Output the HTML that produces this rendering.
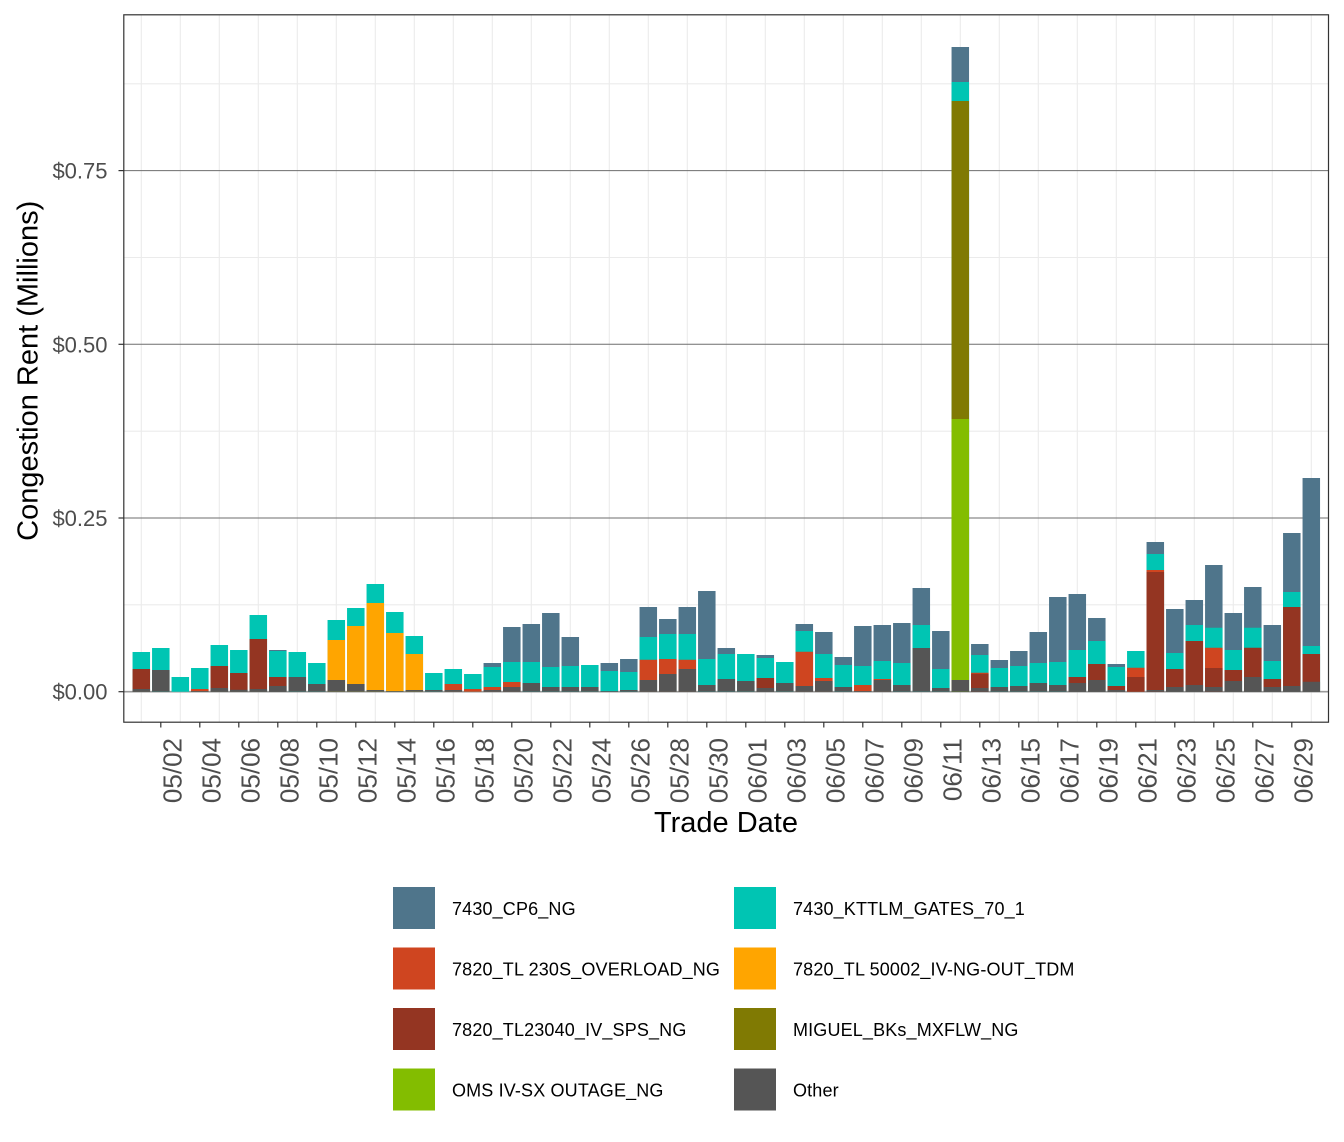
<!DOCTYPE html>
<html>
<head>
<meta charset="utf-8">
<style>
html,body{margin:0;padding:0;background:#fff;width:1344px;height:1142px;overflow:hidden;}
svg{display:block;}
text{font-family:"Liberation Sans",Arial,sans-serif;}
.b{fill:#4F758B}.t{fill:#00C5B3}.r{fill:#CF4520}.o{fill:#FFA500}.k{fill:#943522}.v{fill:#807A03}.g{fill:#83BD00}.d{fill:#555555}
.xl{font-size:26px;fill:#4d4d4d}
.yl{font-size:22px;fill:#4d4d4d}
.lg{font-size:18px;fill:#000;letter-spacing:0.15px}
</style>
</head>
<body>
<svg width="1344" height="1142" viewBox="0 0 1344 1142" xmlns="http://www.w3.org/2000/svg">
<rect x="0" y="0" width="1344" height="1142" fill="#fff"/>
<g stroke="#ebebeb" stroke-width="1.1">
<line x1="124" x2="1328" y1="604.85" y2="604.85"/>
<line x1="124" x2="1328" y1="431.2" y2="431.2"/>
<line x1="124" x2="1328" y1="257.5" y2="257.5"/>
<line x1="124" x2="1328" y1="83.8" y2="83.8"/>
</g>
<g stroke="#ebebeb" stroke-width="1.1">
<line x1="141.3" x2="141.3" y1="15" y2="722"/><line x1="180.3" x2="180.3" y1="15" y2="722"/><line x1="219.3" x2="219.3" y1="15" y2="722"/><line x1="258.3" x2="258.3" y1="15" y2="722"/><line x1="297.3" x2="297.3" y1="15" y2="722"/><line x1="336.3" x2="336.3" y1="15" y2="722"/><line x1="375.3" x2="375.3" y1="15" y2="722"/><line x1="414.3" x2="414.3" y1="15" y2="722"/><line x1="453.3" x2="453.3" y1="15" y2="722"/><line x1="492.3" x2="492.3" y1="15" y2="722"/><line x1="531.3" x2="531.3" y1="15" y2="722"/><line x1="570.3" x2="570.3" y1="15" y2="722"/><line x1="609.3" x2="609.3" y1="15" y2="722"/><line x1="648.3" x2="648.3" y1="15" y2="722"/><line x1="687.3" x2="687.3" y1="15" y2="722"/><line x1="726.3" x2="726.3" y1="15" y2="722"/><line x1="765.3" x2="765.3" y1="15" y2="722"/><line x1="804.3" x2="804.3" y1="15" y2="722"/><line x1="843.3" x2="843.3" y1="15" y2="722"/><line x1="882.3" x2="882.3" y1="15" y2="722"/><line x1="921.3" x2="921.3" y1="15" y2="722"/><line x1="960.3" x2="960.3" y1="15" y2="722"/><line x1="999.3" x2="999.3" y1="15" y2="722"/><line x1="1038.3" x2="1038.3" y1="15" y2="722"/><line x1="1077.3" x2="1077.3" y1="15" y2="722"/><line x1="1116.3" x2="1116.3" y1="15" y2="722"/><line x1="1155.3" x2="1155.3" y1="15" y2="722"/><line x1="1194.3" x2="1194.3" y1="15" y2="722"/><line x1="1233.3" x2="1233.3" y1="15" y2="722"/><line x1="1272.3" x2="1272.3" y1="15" y2="722"/><line x1="1311.3" x2="1311.3" y1="15" y2="722"/>
</g>
<g stroke="#6e6e6e" stroke-width="1">
<line x1="124" x2="1328" y1="691.7" y2="691.7" stroke="#9a9a9a" stroke-width="1.6"/>
<line x1="124" x2="1328" y1="518" y2="518"/>
<line x1="124" x2="1328" y1="344.3" y2="344.3"/>
<line x1="124" x2="1328" y1="170.6" y2="170.6"/>
</g>
<g>
<g transform="translate(132.55,0)"><path class="t" d="M0 652H17.5V691.7H0Z"/><path class="k" d="M0 669H17.5V691.7H0Z"/><path class="d" d="M0 689H17.5V691.7H0Z"/></g>
<g transform="translate(152.05,0)"><path class="t" d="M0 648H17.5V691.7H0Z"/><path class="d" d="M0 670H17.5V691.7H0Z"/></g>
<g transform="translate(171.55,0)"><path class="t" d="M0 677H17.5V691.7H0Z"/></g>
<g transform="translate(191.05,0)"><path class="t" d="M0 668H17.5V691.7H0Z"/><path class="r" d="M0 689H17.5V691.7H0Z"/><path class="d" d="M0 691H17.5V691.7H0Z"/></g>
<g transform="translate(210.55,0)"><path class="t" d="M0 645H17.5V691.7H0Z"/><path class="k" d="M0 666H17.5V691.7H0Z"/><path class="d" d="M0 688H17.5V691.7H0Z"/></g>
<g transform="translate(230.05,0)"><path class="t" d="M0 650H17.5V691.7H0Z"/><path class="k" d="M0 673H17.5V691.7H0Z"/><path class="d" d="M0 689.7H17.5V691.7H0Z"/></g>
<g transform="translate(249.55,0)"><path class="t" d="M0 615H17.5V691.7H0Z"/><path class="k" d="M0 639H17.5V691.7H0Z"/><path class="d" d="M0 689H17.5V691.7H0Z"/></g>
<g transform="translate(269.05,0)"><path class="b" d="M0 650H17.5V691.7H0Z"/><path class="t" d="M0 651H17.5V691.7H0Z"/><path class="k" d="M0 677H17.5V691.7H0Z"/><path class="d" d="M0 686H17.5V691.7H0Z"/></g>
<g transform="translate(288.55,0)"><path class="t" d="M0 652H17.5V691.7H0Z"/><path class="d" d="M0 677H17.5V691.7H0Z"/></g>
<g transform="translate(308.05,0)"><path class="t" d="M0 663H17.5V691.7H0Z"/><path class="d" d="M0 684H17.5V691.7H0Z"/></g>
<g transform="translate(327.55,0)"><path class="t" d="M0 620H17.5V691.7H0Z"/><path class="o" d="M0 640H17.5V691.7H0Z"/><path class="d" d="M0 680H17.5V691.7H0Z"/></g>
<g transform="translate(347.05,0)"><path class="t" d="M0 608H17.5V691.7H0Z"/><path class="o" d="M0 626H17.5V691.7H0Z"/><path class="d" d="M0 684H17.5V691.7H0Z"/></g>
<g transform="translate(366.55,0)"><path class="t" d="M0 584H17.5V691.7H0Z"/><path class="o" d="M0 603H17.5V691.7H0Z"/><path class="d" d="M0 690H17.5V691.7H0Z"/></g>
<g transform="translate(386.05,0)"><path class="t" d="M0 612H17.5V691.7H0Z"/><path class="o" d="M0 633H17.5V691.7H0Z"/><path class="d" d="M0 691H17.5V691.7H0Z"/></g>
<g transform="translate(405.55,0)"><path class="t" d="M0 636H17.5V691.7H0Z"/><path class="o" d="M0 654H17.5V691.7H0Z"/><path class="d" d="M0 690H17.5V691.7H0Z"/></g>
<g transform="translate(425.05,0)"><path class="t" d="M0 673H17.5V691.7H0Z"/><path class="d" d="M0 690H17.5V691.7H0Z"/></g>
<g transform="translate(444.55,0)"><path class="t" d="M0 669H17.5V691.7H0Z"/><path class="r" d="M0 684H17.5V691.7H0Z"/><path class="d" d="M0 690H17.5V691.7H0Z"/></g>
<g transform="translate(464.05,0)"><path class="t" d="M0 674H17.5V691.7H0Z"/><path class="r" d="M0 689H17.5V691.7H0Z"/></g>
<g transform="translate(483.55,0)"><path class="b" d="M0 663H17.5V691.7H0Z"/><path class="t" d="M0 667H17.5V691.7H0Z"/><path class="r" d="M0 687H17.5V691.7H0Z"/><path class="d" d="M0 690H17.5V691.7H0Z"/></g>
<g transform="translate(503.05,0)"><path class="b" d="M0 627H17.5V691.7H0Z"/><path class="t" d="M0 662H17.5V691.7H0Z"/><path class="r" d="M0 682H17.5V691.7H0Z"/><path class="d" d="M0 687H17.5V691.7H0Z"/></g>
<g transform="translate(522.55,0)"><path class="b" d="M0 624H17.5V691.7H0Z"/><path class="t" d="M0 662H17.5V691.7H0Z"/><path class="d" d="M0 683H17.5V691.7H0Z"/></g>
<g transform="translate(542.05,0)"><path class="b" d="M0 613H17.5V691.7H0Z"/><path class="t" d="M0 667H17.5V691.7H0Z"/><path class="d" d="M0 687H17.5V691.7H0Z"/></g>
<g transform="translate(561.55,0)"><path class="b" d="M0 637H17.5V691.7H0Z"/><path class="t" d="M0 666H17.5V691.7H0Z"/><path class="d" d="M0 687H17.5V691.7H0Z"/></g>
<g transform="translate(581.05,0)"><path class="t" d="M0 665H17.5V691.7H0Z"/><path class="d" d="M0 687H17.5V691.7H0Z"/></g>
<g transform="translate(600.55,0)"><path class="b" d="M0 663H17.5V691.7H0Z"/><path class="t" d="M0 671H17.5V691.7H0Z"/><path class="d" d="M0 691H17.5V691.7H0Z"/></g>
<g transform="translate(620.05,0)"><path class="b" d="M0 659H17.5V691.7H0Z"/><path class="t" d="M0 672H17.5V691.7H0Z"/><path class="d" d="M0 690H17.5V691.7H0Z"/></g>
<g transform="translate(639.55,0)"><path class="b" d="M0 607H17.5V691.7H0Z"/><path class="t" d="M0 637H17.5V691.7H0Z"/><path class="r" d="M0 659.7H17.5V691.7H0Z"/><path class="d" d="M0 680H17.5V691.7H0Z"/></g>
<g transform="translate(659.05,0)"><path class="b" d="M0 619H17.5V691.7H0Z"/><path class="t" d="M0 634H17.5V691.7H0Z"/><path class="r" d="M0 659H17.5V691.7H0Z"/><path class="d" d="M0 674H17.5V691.7H0Z"/></g>
<g transform="translate(678.55,0)"><path class="b" d="M0 607H17.5V691.7H0Z"/><path class="t" d="M0 634H17.5V691.7H0Z"/><path class="r" d="M0 659.7H17.5V691.7H0Z"/><path class="d" d="M0 669H17.5V691.7H0Z"/></g>
<g transform="translate(698.05,0)"><path class="b" d="M0 591H17.5V691.7H0Z"/><path class="t" d="M0 659H17.5V691.7H0Z"/><path class="d" d="M0 685H17.5V691.7H0Z"/></g>
<g transform="translate(717.55,0)"><path class="b" d="M0 648H17.5V691.7H0Z"/><path class="t" d="M0 654H17.5V691.7H0Z"/><path class="d" d="M0 679H17.5V691.7H0Z"/></g>
<g transform="translate(737.05,0)"><path class="t" d="M0 654H17.5V691.7H0Z"/><path class="d" d="M0 681H17.5V691.7H0Z"/></g>
<g transform="translate(756.55,0)"><path class="b" d="M0 655H17.5V691.7H0Z"/><path class="t" d="M0 658H17.5V691.7H0Z"/><path class="k" d="M0 678H17.5V691.7H0Z"/><path class="d" d="M0 688H17.5V691.7H0Z"/></g>
<g transform="translate(776.05,0)"><path class="t" d="M0 662H17.5V691.7H0Z"/><path class="d" d="M0 683H17.5V691.7H0Z"/></g>
<g transform="translate(795.55,0)"><path class="b" d="M0 624H17.5V691.7H0Z"/><path class="t" d="M0 631H17.5V691.7H0Z"/><path class="r" d="M0 651.7H17.5V691.7H0Z"/><path class="d" d="M0 686H17.5V691.7H0Z"/></g>
<g transform="translate(815.05,0)"><path class="b" d="M0 632H17.5V691.7H0Z"/><path class="t" d="M0 654H17.5V691.7H0Z"/><path class="r" d="M0 678H17.5V691.7H0Z"/><path class="d" d="M0 681H17.5V691.7H0Z"/></g>
<g transform="translate(834.55,0)"><path class="b" d="M0 657H17.5V691.7H0Z"/><path class="t" d="M0 665H17.5V691.7H0Z"/><path class="d" d="M0 687H17.5V691.7H0Z"/></g>
<g transform="translate(854.05,0)"><path class="b" d="M0 626H17.5V691.7H0Z"/><path class="t" d="M0 666H17.5V691.7H0Z"/><path class="r" d="M0 685H17.5V691.7H0Z"/><path class="d" d="M0 691H17.5V691.7H0Z"/></g>
<g transform="translate(873.55,0)"><path class="b" d="M0 625H17.5V691.7H0Z"/><path class="t" d="M0 661H17.5V691.7H0Z"/><path class="r" d="M0 679H17.5V691.7H0Z"/><path class="d" d="M0 680H17.5V691.7H0Z"/></g>
<g transform="translate(893.05,0)"><path class="b" d="M0 623H17.5V691.7H0Z"/><path class="t" d="M0 663H17.5V691.7H0Z"/><path class="d" d="M0 685H17.5V691.7H0Z"/></g>
<g transform="translate(912.55,0)"><path class="b" d="M0 588H17.5V691.7H0Z"/><path class="t" d="M0 625H17.5V691.7H0Z"/><path class="d" d="M0 648H17.5V691.7H0Z"/></g>
<g transform="translate(932.05,0)"><path class="b" d="M0 631H17.5V691.7H0Z"/><path class="t" d="M0 669H17.5V691.7H0Z"/><path class="d" d="M0 688H17.5V691.7H0Z"/></g>
<g transform="translate(951.55,0)"><path class="b" d="M0 47H17.5V691.7H0Z"/><path class="t" d="M0 82H17.5V691.7H0Z"/><path class="v" d="M0 101H17.5V691.7H0Z"/><path class="g" d="M0 419H17.5V691.7H0Z"/><path class="d" d="M0 680H17.5V691.7H0Z"/></g>
<g transform="translate(971.05,0)"><path class="b" d="M0 644H17.5V691.7H0Z"/><path class="t" d="M0 655H17.5V691.7H0Z"/><path class="r" d="M0 672.7H17.5V691.7H0Z"/><path class="k" d="M0 673.7H17.5V691.7H0Z"/><path class="d" d="M0 688H17.5V691.7H0Z"/></g>
<g transform="translate(990.55,0)"><path class="b" d="M0 660H17.5V691.7H0Z"/><path class="t" d="M0 668H17.5V691.7H0Z"/><path class="d" d="M0 687H17.5V691.7H0Z"/></g>
<g transform="translate(1010.05,0)"><path class="b" d="M0 651H17.5V691.7H0Z"/><path class="t" d="M0 666H17.5V691.7H0Z"/><path class="d" d="M0 686H17.5V691.7H0Z"/></g>
<g transform="translate(1029.55,0)"><path class="b" d="M0 632H17.5V691.7H0Z"/><path class="t" d="M0 663H17.5V691.7H0Z"/><path class="d" d="M0 683H17.5V691.7H0Z"/></g>
<g transform="translate(1049.05,0)"><path class="b" d="M0 597H17.5V691.7H0Z"/><path class="t" d="M0 662H17.5V691.7H0Z"/><path class="d" d="M0 685H17.5V691.7H0Z"/></g>
<g transform="translate(1068.55,0)"><path class="b" d="M0 594H17.5V691.7H0Z"/><path class="t" d="M0 650H17.5V691.7H0Z"/><path class="k" d="M0 677H17.5V691.7H0Z"/><path class="d" d="M0 683H17.5V691.7H0Z"/></g>
<g transform="translate(1088.05,0)"><path class="b" d="M0 618H17.5V691.7H0Z"/><path class="t" d="M0 641H17.5V691.7H0Z"/><path class="k" d="M0 664H17.5V691.7H0Z"/><path class="d" d="M0 680H17.5V691.7H0Z"/></g>
<g transform="translate(1107.55,0)"><path class="b" d="M0 664H17.5V691.7H0Z"/><path class="t" d="M0 667H17.5V691.7H0Z"/><path class="k" d="M0 686H17.5V691.7H0Z"/><path class="d" d="M0 690H17.5V691.7H0Z"/></g>
<g transform="translate(1127.05,0)"><path class="t" d="M0 651H17.5V691.7H0Z"/><path class="r" d="M0 667.7H17.5V691.7H0Z"/><path class="k" d="M0 677H17.5V691.7H0Z"/></g>
<g transform="translate(1146.55,0)"><path class="b" d="M0 542H17.5V691.7H0Z"/><path class="t" d="M0 554H17.5V691.7H0Z"/><path class="r" d="M0 570H17.5V691.7H0Z"/><path class="k" d="M0 572H17.5V691.7H0Z"/><path class="d" d="M0 690H17.5V691.7H0Z"/></g>
<g transform="translate(1166.05,0)"><path class="b" d="M0 609H17.5V691.7H0Z"/><path class="t" d="M0 653H17.5V691.7H0Z"/><path class="k" d="M0 669H17.5V691.7H0Z"/><path class="d" d="M0 687H17.5V691.7H0Z"/></g>
<g transform="translate(1185.55,0)"><path class="b" d="M0 600H17.5V691.7H0Z"/><path class="t" d="M0 625H17.5V691.7H0Z"/><path class="k" d="M0 641H17.5V691.7H0Z"/><path class="d" d="M0 685H17.5V691.7H0Z"/></g>
<g transform="translate(1205.05,0)"><path class="b" d="M0 565H17.5V691.7H0Z"/><path class="t" d="M0 627.7H17.5V691.7H0Z"/><path class="r" d="M0 647.7H17.5V691.7H0Z"/><path class="k" d="M0 668H17.5V691.7H0Z"/><path class="d" d="M0 687H17.5V691.7H0Z"/></g>
<g transform="translate(1224.55,0)"><path class="b" d="M0 613H17.5V691.7H0Z"/><path class="t" d="M0 650H17.5V691.7H0Z"/><path class="k" d="M0 670H17.5V691.7H0Z"/><path class="d" d="M0 681H17.5V691.7H0Z"/></g>
<g transform="translate(1244.05,0)"><path class="b" d="M0 587H17.5V691.7H0Z"/><path class="t" d="M0 627.7H17.5V691.7H0Z"/><path class="k" d="M0 647.7H17.5V691.7H0Z"/><path class="d" d="M0 677H17.5V691.7H0Z"/></g>
<g transform="translate(1263.55,0)"><path class="b" d="M0 625H17.5V691.7H0Z"/><path class="t" d="M0 661H17.5V691.7H0Z"/><path class="k" d="M0 679H17.5V691.7H0Z"/><path class="d" d="M0 687H17.5V691.7H0Z"/></g>
<g transform="translate(1283.05,0)"><path class="b" d="M0 533H17.5V691.7H0Z"/><path class="t" d="M0 592H17.5V691.7H0Z"/><path class="k" d="M0 607H17.5V691.7H0Z"/><path class="d" d="M0 686H17.5V691.7H0Z"/></g>
<g transform="translate(1302.55,0)"><path class="b" d="M0 478H17.5V691.7H0Z"/><path class="t" d="M0 646H17.5V691.7H0Z"/><path class="k" d="M0 654H17.5V691.7H0Z"/><path class="d" d="M0 681.7H17.5V691.7H0Z"/></g>
</g>
<rect x="123.8" y="14.8" width="1204.7" height="707.4" fill="none" stroke="#333" stroke-width="1.2"/>
<g stroke="#333" stroke-width="1.2">
<line x1="118.5" x2="123.8" y1="691.7" y2="691.7"/>
<line x1="118.5" x2="123.8" y1="518" y2="518"/>
<line x1="118.5" x2="123.8" y1="344.3" y2="344.3"/>
<line x1="118.5" x2="123.8" y1="170.6" y2="170.6"/>
</g>
<g class="yl" text-anchor="end">
<text x="107.5" y="699.7">$0.00</text>
<text x="107.5" y="526">$0.25</text>
<text x="107.5" y="352.3">$0.50</text>
<text x="107.5" y="178.6">$0.75</text>
</g>
<g stroke="#333" stroke-width="1.2">
<line x1="160.8" x2="160.8" y1="722" y2="727.5"/><line x1="199.8" x2="199.8" y1="722" y2="727.5"/><line x1="238.8" x2="238.8" y1="722" y2="727.5"/><line x1="277.8" x2="277.8" y1="722" y2="727.5"/><line x1="316.8" x2="316.8" y1="722" y2="727.5"/><line x1="355.8" x2="355.8" y1="722" y2="727.5"/><line x1="394.8" x2="394.8" y1="722" y2="727.5"/><line x1="433.8" x2="433.8" y1="722" y2="727.5"/><line x1="472.8" x2="472.8" y1="722" y2="727.5"/><line x1="511.8" x2="511.8" y1="722" y2="727.5"/><line x1="550.8" x2="550.8" y1="722" y2="727.5"/><line x1="589.8" x2="589.8" y1="722" y2="727.5"/><line x1="628.8" x2="628.8" y1="722" y2="727.5"/><line x1="667.8" x2="667.8" y1="722" y2="727.5"/><line x1="706.8" x2="706.8" y1="722" y2="727.5"/><line x1="745.8" x2="745.8" y1="722" y2="727.5"/><line x1="784.8" x2="784.8" y1="722" y2="727.5"/><line x1="823.8" x2="823.8" y1="722" y2="727.5"/><line x1="862.8" x2="862.8" y1="722" y2="727.5"/><line x1="901.8" x2="901.8" y1="722" y2="727.5"/><line x1="940.8" x2="940.8" y1="722" y2="727.5"/><line x1="979.8" x2="979.8" y1="722" y2="727.5"/><line x1="1018.8" x2="1018.8" y1="722" y2="727.5"/><line x1="1057.8" x2="1057.8" y1="722" y2="727.5"/><line x1="1096.8" x2="1096.8" y1="722" y2="727.5"/><line x1="1135.8" x2="1135.8" y1="722" y2="727.5"/><line x1="1174.8" x2="1174.8" y1="722" y2="727.5"/><line x1="1213.8" x2="1213.8" y1="722" y2="727.5"/><line x1="1252.8" x2="1252.8" y1="722" y2="727.5"/><line x1="1291.8" x2="1291.8" y1="722" y2="727.5"/>
</g>
<g class="xl" text-anchor="end">
<text transform="translate(181.3,738) rotate(-90)">05/02</text>
<text transform="translate(220.3,738) rotate(-90)">05/04</text>
<text transform="translate(259.3,738) rotate(-90)">05/06</text>
<text transform="translate(298.3,738) rotate(-90)">05/08</text>
<text transform="translate(337.3,738) rotate(-90)">05/10</text>
<text transform="translate(376.3,738) rotate(-90)">05/12</text>
<text transform="translate(415.3,738) rotate(-90)">05/14</text>
<text transform="translate(454.3,738) rotate(-90)">05/16</text>
<text transform="translate(493.3,738) rotate(-90)">05/18</text>
<text transform="translate(532.3,738) rotate(-90)">05/20</text>
<text transform="translate(571.3,738) rotate(-90)">05/22</text>
<text transform="translate(610.3,738) rotate(-90)">05/24</text>
<text transform="translate(649.3,738) rotate(-90)">05/26</text>
<text transform="translate(688.3,738) rotate(-90)">05/28</text>
<text transform="translate(727.3,738) rotate(-90)">05/30</text>
<text transform="translate(766.3,738) rotate(-90)">06/01</text>
<text transform="translate(805.3,738) rotate(-90)">06/03</text>
<text transform="translate(844.3,738) rotate(-90)">06/05</text>
<text transform="translate(883.3,738) rotate(-90)">06/07</text>
<text transform="translate(922.3,738) rotate(-90)">06/09</text>
<text transform="translate(961.3,738) rotate(-90)">06/11</text>
<text transform="translate(1000.3,738) rotate(-90)">06/13</text>
<text transform="translate(1039.3,738) rotate(-90)">06/15</text>
<text transform="translate(1078.3,738) rotate(-90)">06/17</text>
<text transform="translate(1117.3,738) rotate(-90)">06/19</text>
<text transform="translate(1156.3,738) rotate(-90)">06/21</text>
<text transform="translate(1195.3,738) rotate(-90)">06/23</text>
<text transform="translate(1234.3,738) rotate(-90)">06/25</text>
<text transform="translate(1273.3,738) rotate(-90)">06/27</text>
<text transform="translate(1312.3,738) rotate(-90)">06/29</text>
</g>
<text x="726" y="832" text-anchor="middle" font-size="29" fill="#000">Trade Date</text>
<text transform="translate(37.3,370.8) rotate(-90)" text-anchor="middle" font-size="29" fill="#000">Congestion Rent (Millions)</text>
<rect class="b" x="393" y="887" width="42" height="42"/>
<rect class="r" x="393" y="947.5" width="42" height="42"/>
<rect class="k" x="393" y="1008" width="42" height="42"/>
<rect class="g" x="393" y="1068.5" width="42" height="42"/>
<rect class="t" x="734" y="887" width="42" height="42"/>
<rect class="o" x="734" y="947.5" width="42" height="42"/>
<rect class="v" x="734" y="1008" width="42" height="42"/>
<rect class="d" x="734" y="1068.5" width="42" height="42"/>
<g class="lg">
<text x="452" y="915">7430_CP6_NG</text>
<text x="452" y="975.5">7820_TL 230S_OVERLOAD_NG</text>
<text x="452" y="1036">7820_TL23040_IV_SPS_NG</text>
<text x="452" y="1096.5">OMS IV-SX OUTAGE_NG</text>
<text x="793" y="915">7430_KTTLM_GATES_70_1</text>
<text x="793" y="975.5">7820_TL 50002_IV-NG-OUT_TDM</text>
<text x="793" y="1036">MIGUEL_BKs_MXFLW_NG</text>
<text x="793" y="1096.5">Other</text>
</g>
</svg>
</body>
</html>
